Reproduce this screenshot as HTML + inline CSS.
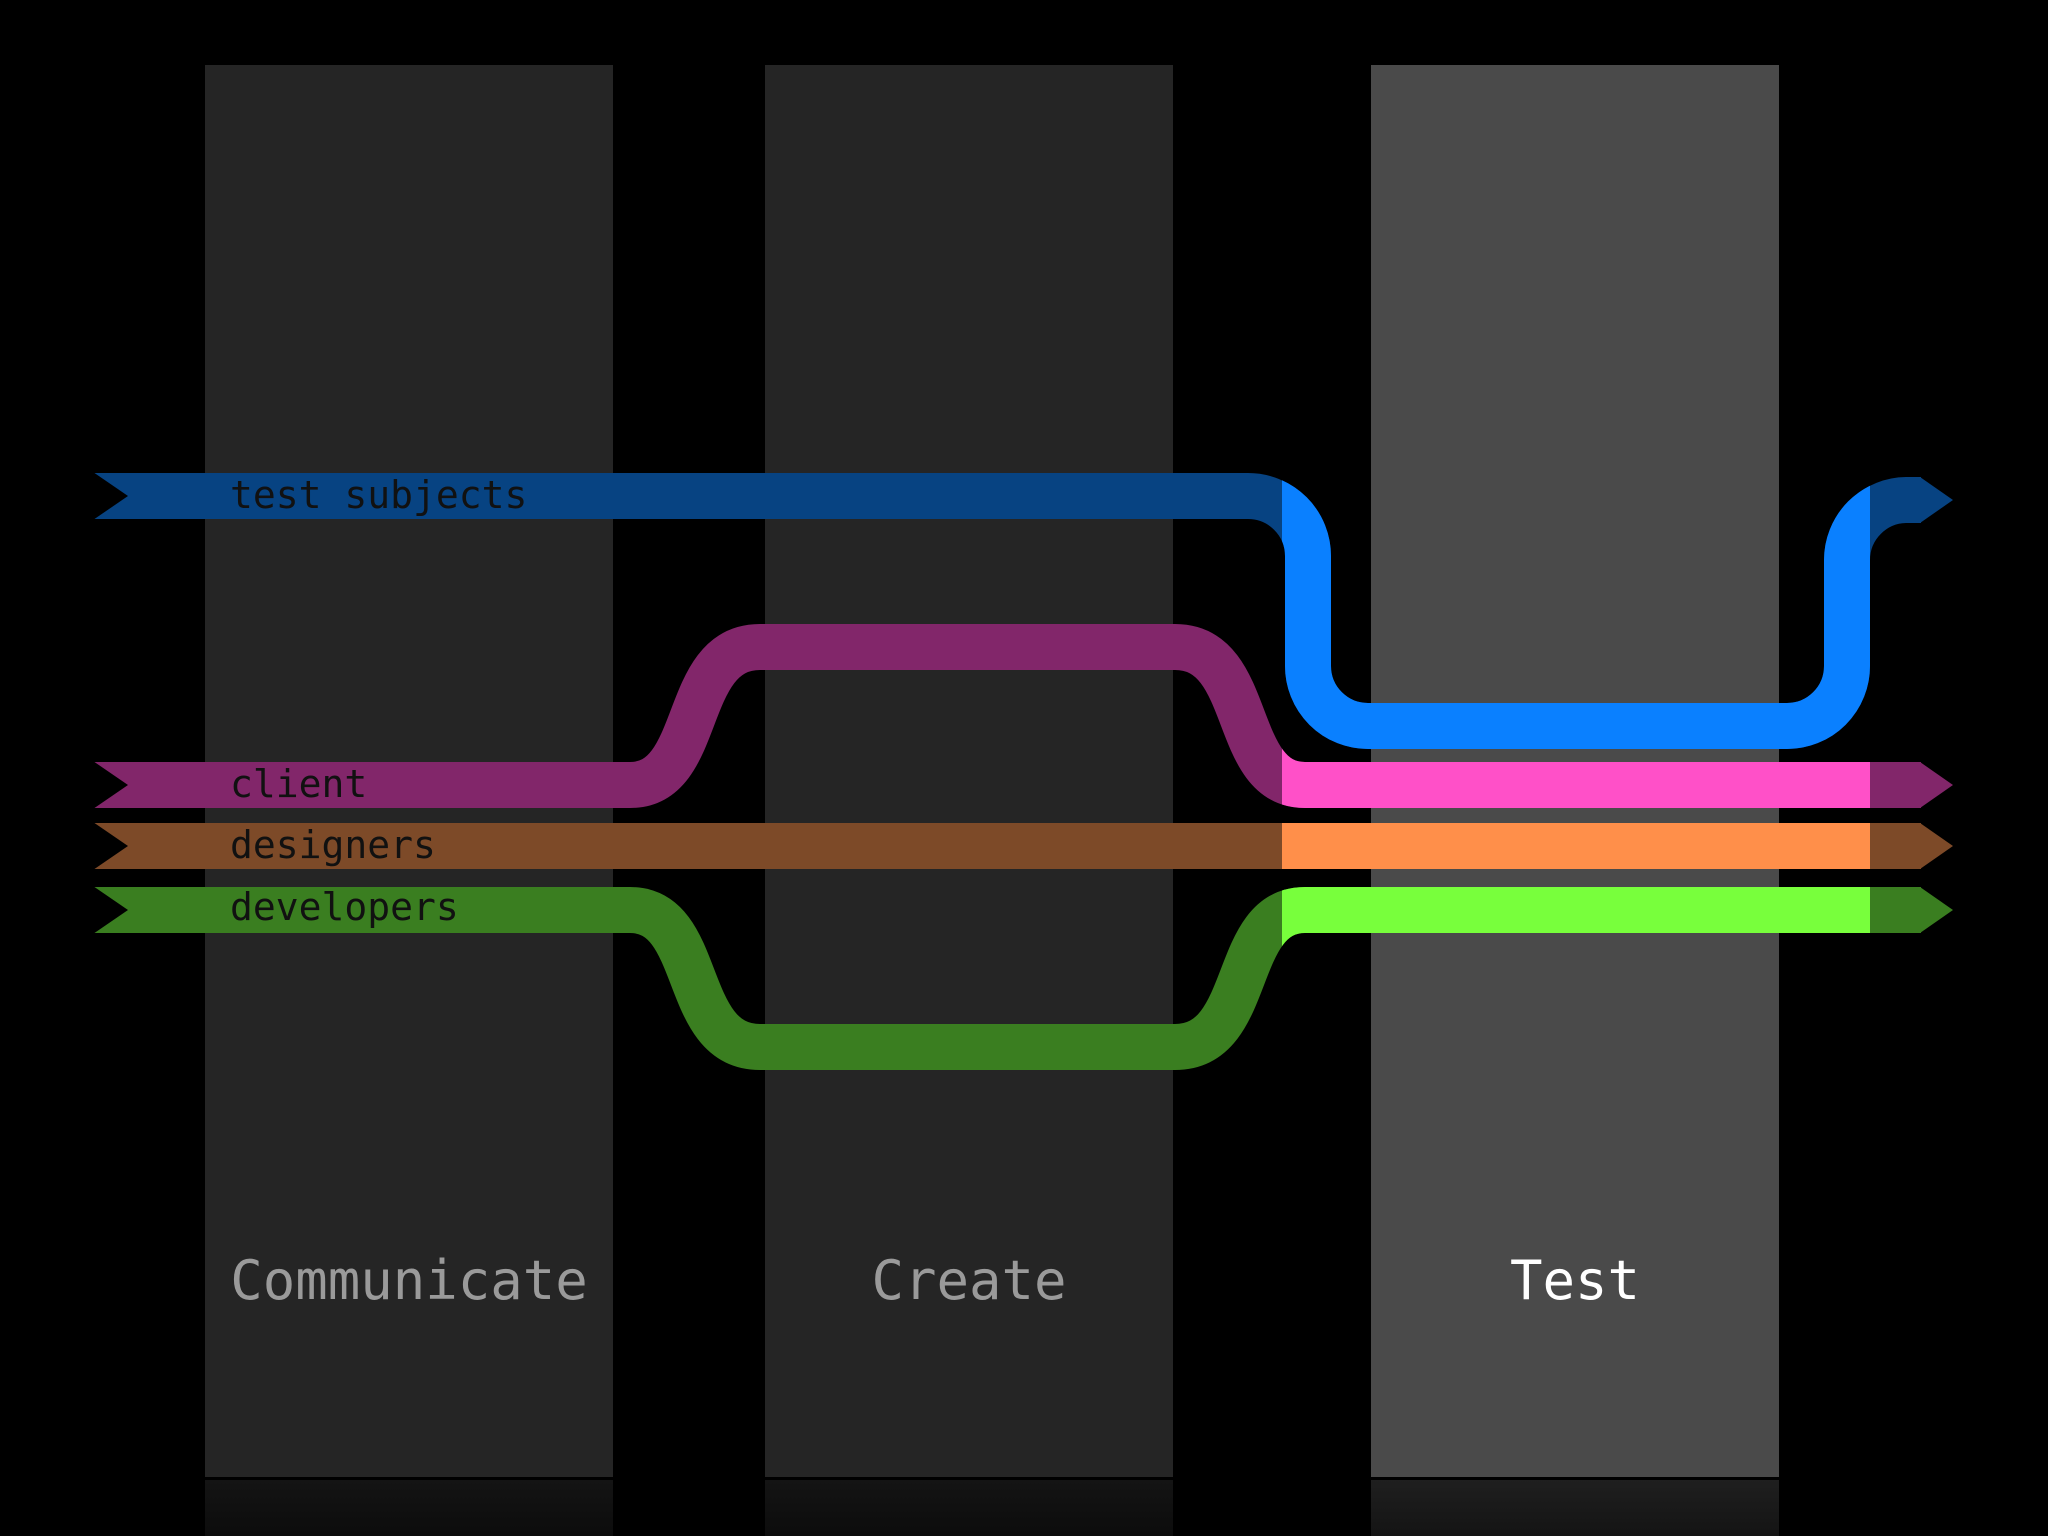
<!DOCTYPE html>
<html><head><meta charset="utf-8"><style>
html,body{margin:0;padding:0;background:#000;width:2048px;height:1536px;overflow:hidden}
</style></head><body>
<svg width="2048" height="1536" viewBox="0 0 2048 1536" xmlns="http://www.w3.org/2000/svg">
<defs>
<clipPath id="lc"><rect x="1282" y="0" width="588" height="1536"/></clipPath>
<linearGradient id="r1" x1="0" y1="0" x2="0" y2="1"><stop offset="0" stop-color="#141414"/><stop offset="1" stop-color="#0c0c0c"/></linearGradient>
<linearGradient id="r2" x1="0" y1="0" x2="0" y2="1"><stop offset="0" stop-color="#1f1f1f"/><stop offset="1" stop-color="#141414"/></linearGradient>
</defs>
<rect width="2048" height="1536" fill="#000"/>
<rect x="205" y="65" width="408" height="1412" fill="#252525"/>
<rect x="765" y="65" width="408" height="1412" fill="#252525"/>
<rect x="1371" y="65" width="408" height="1412" fill="#4a4a4a"/>
<rect x="205" y="1480" width="408" height="56" fill="url(#r1)"/>
<rect x="765" y="1480" width="408" height="56" fill="url(#r1)"/>
<rect x="1371" y="1480" width="408" height="56" fill="url(#r2)"/>
<g font-family="'DejaVu Sans Mono','Liberation Mono',monospace" font-size="54" text-anchor="middle">
<text x="409" y="1299" fill="#9a9a9a">Communicate</text>
<text x="969" y="1299" fill="#9a9a9a">Create</text>
<text x="1575" y="1299" fill="#ffffff">Test</text>
</g>
<g fill="none" stroke-width="46" stroke-linecap="butt">
<path d="M94 846 H1921" stroke="#7d4a28"/>
<path d="M94 846 H1921" stroke="#ff8f4a" clip-path="url(#lc)"/>
<path d="M94 910 H630 C705 910 680 1047 760 1047 H1175 C1255 1047 1230 910 1305 910 H1921" stroke="#3a7e20"/>
<path d="M94 910 H630 C705 910 680 1047 760 1047 H1175 C1255 1047 1230 910 1305 910 H1921" stroke="#78ff3c" clip-path="url(#lc)"/>
<path d="M94 785 H630 C705 785 680 647 760 647 H1175 C1255 647 1230 785 1305 785 H1921" stroke="#82266a"/>
<path d="M94 785 H630 C705 785 680 647 760 647 H1175 C1255 647 1230 785 1305 785 H1921" stroke="#ff50c8" clip-path="url(#lc)"/>
<path d="M94 496 H1248 A60 60 0 0 1 1308 556 V666 A60 60 0 0 0 1368 726 H1787 A60 60 0 0 0 1847 666 V560 A60 60 0 0 1 1907 500 H1921" stroke="#074382"/>
<path d="M94 496 H1248 A60 60 0 0 1 1308 556 V666 A60 60 0 0 0 1368 726 H1787 A60 60 0 0 0 1847 666 V560 A60 60 0 0 1 1907 500 H1921" stroke="#0a80ff" clip-path="url(#lc)"/>
</g>
<polygon points="1920,477 1953,500 1920,523" fill="#074382"/>
<polygon points="1920,762 1953,785 1920,808" fill="#82266a"/>
<polygon points="1920,823 1953,846 1920,869" fill="#7d4a28"/>
<polygon points="1920,887 1953,910 1920,933" fill="#3a7e20"/>
<g fill="#000">
<polygon points="93,472 128,496 93,520"/>
<polygon points="93,761 128,785 93,809"/>
<polygon points="93,822 128,846 93,870"/>
<polygon points="93,886 128,910 93,934"/>
</g>
<g font-family="'DejaVu Sans Mono','Liberation Mono',monospace" font-size="38" fill="#111">
<text x="230" y="508">test subjects</text>
<text x="230" y="797">client</text>
<text x="230" y="858">designers</text>
<text x="230" y="920">developers</text>
</g>
</svg>
</body></html>
